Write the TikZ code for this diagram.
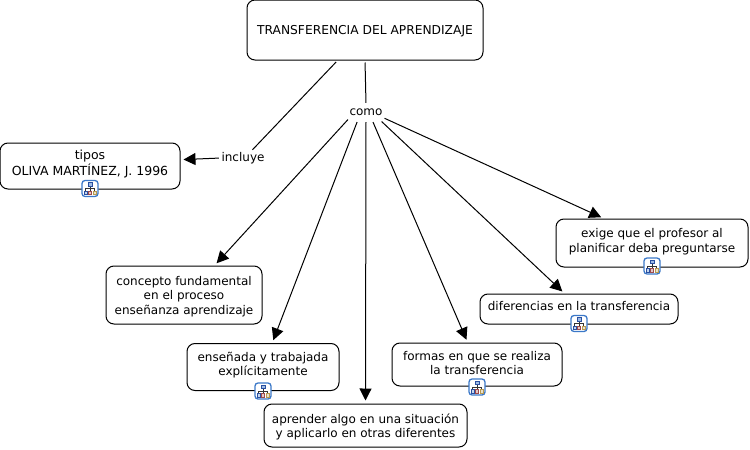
\documentclass[tikz,border=0pt]{standalone}
\usepackage{fontspec}
\setmainfont{DejaVu Sans}
\usetikzlibrary{arrows.meta}
\definecolor{iconblue}{HTML}{3B78C8}
\definecolor{iconnavy}{HTML}{2A4FA0}
\definecolor{iconred}{HTML}{A04A4A}
\definecolor{icongold}{HTML}{B89A50}
\newcommand{\up}[2]{\raisebox{#1pt}[\height][\depth]{\begin{tabular}{@{}c@{}}#2\end{tabular}}}
\tikzset{
  concept/.style={draw=black,line width=1pt,rounded corners=8pt,fill=white,align=center,inner sep=0pt,font=\fontsize{12}{14.8}\selectfont},
  linker/.style={inner sep=0pt,font=\fontsize{12}{14.8}\selectfont,minimum height=16pt},
  link/.style={draw=black,line width=1pt,shorten <=2pt},
  linkarrow/.style={link,-{Triangle[length=12pt,width=12pt]},shorten >=3pt},
  treeicon/.pic={
    \draw[iconblue,line width=1.3pt,fill=white,rounded corners=3pt] (-8,-8) rectangle (8,8);
    \draw[black!80,line width=.7pt] (0,-3) -- (0,3) (-4.5,3) -- (-4.5,0) -- (4.5,0) -- (4.5,3);
    \draw[iconnavy,line width=.8pt,fill=iconblue!50] (-2,-6) rectangle (2,-2.5);
    \draw[iconnavy,line width=.8pt,fill=iconblue!30] (-6,2.5) rectangle (-3,6);
    \draw[iconred,line width=.8pt,fill=iconred!30] (-1.5,2.5) rectangle (1.5,6);
    \draw[icongold,line width=.8pt,fill=icongold!30] (3,2.5) rectangle (6,6);
  }
}
\begin{document}
\begin{tikzpicture}[x=1pt,y=-1pt]
\useasboundingbox (0,0) rectangle (750,450);
\node[concept,minimum width=236pt,minimum height=60pt,font=\fontsize{12.25}{14.8}\selectfont] (top) at (365,30) {\up{-2}{TRANSFERENCIA DEL APRENDIZAJE}};
\node[concept,minimum width=180pt,minimum height=46pt,font=\fontsize{12.5}{14.8}\selectfont] (tipos) at (90,166) {\up{1.5}{tipos\\OLIVA MARTÍNEZ, J. 1996}};
\node[concept,minimum width=156pt,minimum height=58pt] (fund) at (184,295) {\up{-2}{concepto fundamental\\en el proceso\\enseñanza aprendizaje}};
\node[concept,minimum width=152pt,minimum height=47pt] (ens) at (263,367) {\up{1.5}{enseñada y trabajada\\explícitamente}};
\node[concept,minimum width=203pt,minimum height=43pt] (apr) at (365.5,425.5) {\up{-2}{aprender algo en una situación\\y aplicarlo en otras diferentes}};
\node[concept,minimum width=170pt,minimum height=43pt] (for) at (477,364.5) {\up{0}{formas en que se realiza\\la transferencia}};
\node[concept,minimum width=198pt,minimum height=30pt] (dif) at (579,309) {\up{1}{diferencias en la transferencia}};
\node[concept,minimum width=192pt,minimum height=48pt] (exi) at (652,243) {\up{1}{exige que el profesor al\\planificar deba preguntarse}};
\node[linker,minimum width=32pt] (como) at (366,112) {\up{-1}{como}};
\node[linker,minimum width=44pt] (incl) at (243,158) {\up{-1}{incluye}};
\draw[link,shorten >=1pt] (top.south) -- (como.north);
\draw[link] (top.228) -- (incl.41);
\draw[linkarrow] (incl.west) -- (tipos.4.4);
\draw[linkarrow] (como.200) -- (fund.44);
\draw[linkarrow] (como.-135) -- (ens.69);
\draw[linkarrow] (como.south) -- (apr.north);
\draw[linkarrow] (como.-53) -- (for.113);
\draw[linkarrow] (como.-30) -- (dif.133);
\draw[linkarrow] (como.-18) -- (exi.153);
\pic at (90,188.5) {treeicon};
\pic at (652,266) {treeicon};
\pic at (579,323.5) {treeicon};
\pic at (263,391) {treeicon};
\pic at (477,387) {treeicon};
\end{tikzpicture}
\end{document}
